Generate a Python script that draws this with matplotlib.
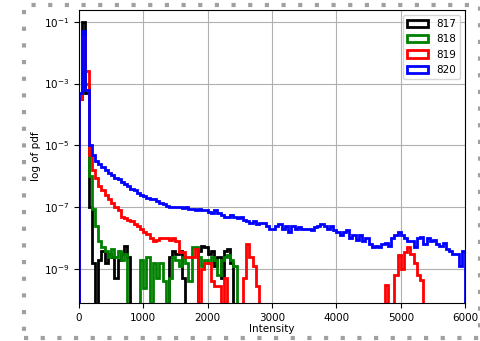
import matplotlib.pyplot as plt
from matplotlib.patches import Rectangle, Patch
import numpy as np

# histogram bins: 50 wide, 0..6000
edges = np.arange(0, 6001, 50)
N = None

# log10 of pdf per bin, None = empty bin
blue_exp = [
    -3.3, -1.3, -3.2, -5.0, -5.3, -5.5, -5.6, -5.7, -5.8, -5.9,
    -5.95, -6.05, -6.1, -6.2, -6.25, -6.3, -6.4, -6.45, -6.55, -6.6,
    -6.65, -6.7, -6.72, -6.75, -6.8, -6.85, -6.9, -6.95, -7.0, -7.0,
    -7.0, -7.0, -7.02, -7.0, -7.05, -7.05, -7.1, -7.05, -7.1, -7.1,
    -7.15, -7.2, -7.1, -7.2, -7.25, -7.3, -7.3, -7.25, -7.3, -7.35,
    -7.3, -7.4, -7.45, -7.5, -7.45, -7.55, -7.5, -7.5, -7.6, -7.7,
    -7.7, -7.6, -7.55, -7.7, -7.6, -7.8, -7.6, -7.7, -7.65, -7.7,
    -7.7, -7.7, -7.75, -7.65, -7.6, -7.55, -7.6, -7.7, -7.6, -7.75,
    -7.8, -7.9, -7.8, -7.75, -8.0, -7.9, -8.05, -7.9, -8.1, -8.0,
    -8.2, -8.3, -8.25, -8.3, -8.2, -8.15, -8.25, -8.0, -7.9, -7.8,
    -7.9, -8.0, -8.1, -8.1, -8.3, -8.0, -7.95, -8.2, -8.0, -8.1,
    -8.05, -8.2, -8.25, -8.15, -8.35, -8.4, -8.5, -8.5, -8.9, -8.4,
]
red_exp = [
    -3.5, -1.5, -2.6, -5.3, -5.8, -6.05, -6.3, -6.45, -6.6, -6.75,
    -6.85, -7.0, -7.1, -7.3, -7.35, -7.4, -7.45, -7.55, -7.6, -7.7,
    -7.8, -7.85, -8.0, -8.1, -8.05, -8.0, -8.0, -8.0, -8.05, -8.0,
    -8.1, -8.45, -8.45, -8.6, -8.6, -8.6, -8.35, N, -9.0, -8.8,
    -8.8, -9.4, -9.55, -9.55, N, -9.3, N, N, N, N,
    N, -9.3, -8.2, -8.6, -8.9, -9.55, N, N, N, N,
    N, N, N, N, N, N, N, N, N, N,
    N, N, N, N, N, N, N, N, N, N,
    N, N, N, N, N, N, N, N, N, N,
    N, N, N, N, N, -9.5, N, N, -9.2, -8.55,
    -9.0, -8.45, -8.3, -8.5, -8.8, -9.2, -9.35, N, N, N,
    N, N, N, N, N, N, N, N, N, N,
]
green_exp = [
    -3.5, -1.6, -3.0, -6.0, -7.05, -7.6, -8.1, -8.3, -8.4, -8.6,
    -8.35, -8.6, -8.4, -8.7, -8.5, N, N, N, N, -8.7,
    -9.6, -8.6, N, -8.8, -9.3, -8.8, -9.4, N, -9.3, -8.6,
    -8.7, -8.9, -8.6, -8.8, -9.4, -8.3, -8.3, -8.6, -8.9, -8.7,
    -8.8, -8.6, -8.7, -9.2, -8.7, -8.6, -8.55, -8.7, -8.9, N,
] + [N] * 70
black_exp = [
    -3.5, -1.0, -3.3, -7.0, -8.8, N, -8.7, -8.4, -8.8, -8.5,
    -8.6, -9.3, -8.7, -8.5, -8.25, -8.6, N, N, N, N,
    N, N, N, N, N, N, N, N, -8.6, -8.4,
    -8.5, -8.4, -9.3, N, N, N, N, -8.4, -8.25, -8.3,
    -8.5, -8.4, -8.9, -8.6, -9.3, -8.4, -8.35, -8.8, N, N,
] + [N] * 70

labels = ['817', '818', '819', '820']
colors = ['black', 'green', 'red', 'blue']


def to_pdf(exps):
    return np.array([0.0 if e is None else 10 ** e for e in exps])


plt.rcParams['font.size'] = 7.5
fig = plt.figure(figsize=(4.81, 3.41), dpi=100)
ax = fig.add_axes([0.164, 0.1114, 0.803, 0.8596])

handles = []
for exps, label, color in zip([black_exp, green_exp, red_exp, blue_exp], labels, colors):
    ax.stairs(to_pdf(exps), edges, color=color, linewidth=2, baseline=1e-12)
    handles.append(Patch(facecolor='none', edgecolor=color, linewidth=2, label=label))

ax.set_yscale('log')
ax.set_xlim(0, 6000)
ax.set_ylim(8e-11, 0.24)
ax.set_yticks([1e-9, 1e-7, 1e-5, 1e-3, 1e-1])
ax.minorticks_off()
ax.set_xticks([0, 1000, 2000, 3000, 4000, 5000, 6000])
ax.set_xlabel('Intensity', labelpad=1)
ax.set_ylabel('log of pdf', labelpad=2)
ax.grid(True, color='#b0b0b0', linewidth=0.8)
ax.set_axisbelow(True)
ax.legend(handles=handles, loc='upper right')

# dotted frame around the picture
fig.patches.append(Rectangle((24 / 481, 3 / 341), 456 / 481, 333 / 341,
                             transform=fig.transFigure, fill=False,
                             edgecolor='#a0a0a0', linewidth=3,
                             linestyle=(0, (1, 3))))

fig.savefig('out.png', dpi=100)
